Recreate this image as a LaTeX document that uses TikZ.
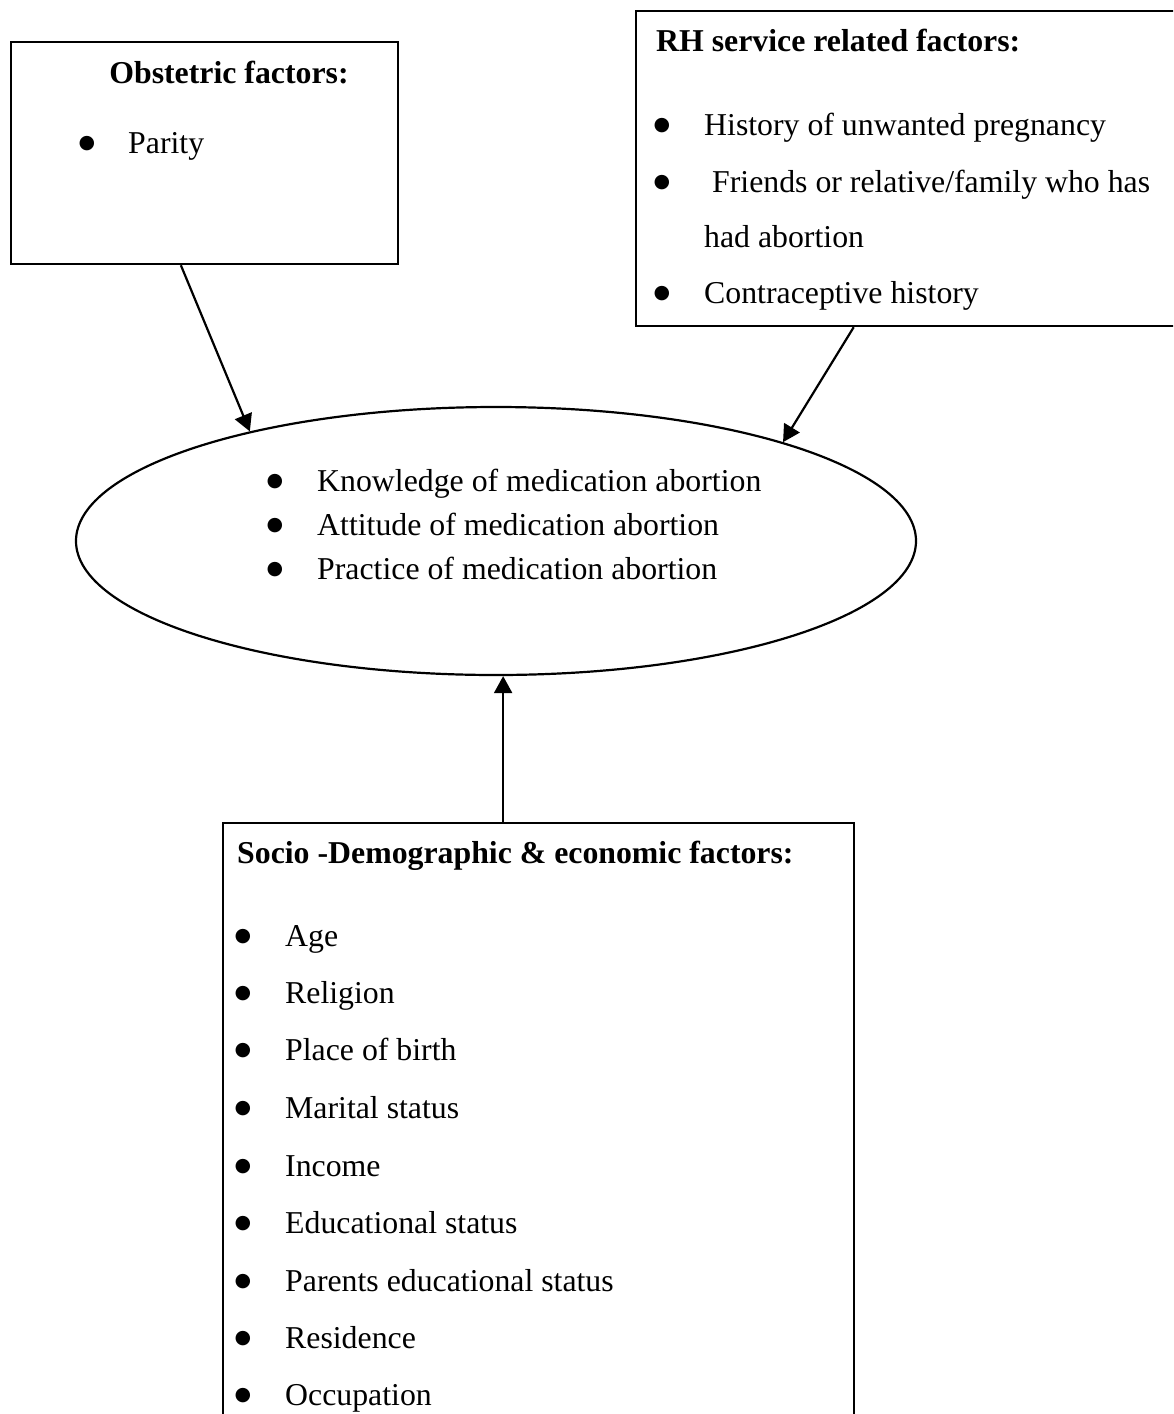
\documentclass[tikz,border=0pt]{standalone}
\usepackage{fontspec}
\setmainfont{Liberation Serif}
\newfontfamily\bulfont{DejaVu Sans}
\usetikzlibrary{shapes.geometric,arrows.meta,calc}
\newcommand\bitem[5]{%
  \node[bul] (#1b) at (#2,#4-9) {●};
  \node[txt] (#1) at (#3,#4) {#5};}
\begin{document}
\begin{tikzpicture}[x=1pt,y=-1pt,
  every node/.style={inner sep=0pt, font=\fontsize{31.8}{38}\selectfont},
  txt/.style={anchor=base west},
  head/.style={font=\fontsize{31.8}{38}\selectfont\bfseries},
  bul/.style={anchor=center, font=\bulfont\fontsize{19}{19}\selectfont},
  frame/.style={draw, line width=2.2pt},
  conn/.style={line width=2.2pt, -{Triangle[length=17pt,width=18pt]}}]
\clip (0,0) rectangle (1173,1414);
\fill[white] (0,0) rectangle (1173,1414);

% boxes
\node[frame, anchor=north west, minimum width=387pt, minimum height=222pt] (obst) at (10,41) {};
\node[frame, anchor=north west, minimum width=560pt, minimum height=315pt] (rh) at (635,10) {};
\node[frame, anchor=north west, minimum width=631pt, minimum height=650pt] (sd) at (222,822) {};
\node[frame, ellipse, minimum width=840pt, minimum height=268pt] (ell) at (496,541) {};

% obstetric
\node[head, anchor=base] (obsth) at (229,83) {Obstetric factors:};
\bitem{parity}{87}{128}{153}{Parity}

% RH
\node[head, anchor=base west] (rhh) at (656,51) {RH service related factors:};
\bitem{hist}{662}{704}{135}{History of unwanted pregnancy}
\bitem{friends}{662}{704}{192}{\ Friends or relative/family who has}
\node[txt] (had) at (704,247) {had abortion};
\bitem{contra}{662}{704}{303}{Contraceptive history}

% ellipse
\bitem{know}{275}{317}{491}{Knowledge of medication abortion}
\bitem{att}{275}{317}{535}{Attitude of medication abortion}
\bitem{prac}{275}{317}{579}{Practice of medication abortion}

% socio
\node[head, anchor=base west] (sdh) at (237,863) {Socio -Demographic \& economic factors:};
\bitem{age}{243}{285}{946}{Age}
\bitem{rel}{243}{285}{1003}{Religion}
\bitem{pob}{243}{285}{1060}{Place of birth}
\bitem{mar}{243}{285}{1118}{Marital status}
\bitem{inc}{243}{285}{1176}{Income}
\bitem{edu}{243}{285}{1233}{Educational status}
\bitem{par}{243}{285}{1291}{Parents educational status}
\bitem{res}{243}{285}{1348}{Residence}
\bitem{occ}{243}{285}{1405}{Occupation}

% connectors
\coordinate (sdtop) at ($(sd.north west)!0.444!(sd.north east)$);
\draw[conn] ($(obst.south west)!0.439!(obst.south east)$) -- (ell.156.7);
\draw[conn] ($(rh.south west)!0.389!(rh.south east)$) -- (ell.19.1);
\draw[conn] (sdtop) -- (ell.south -| sdtop);
\end{tikzpicture}
\end{document}
